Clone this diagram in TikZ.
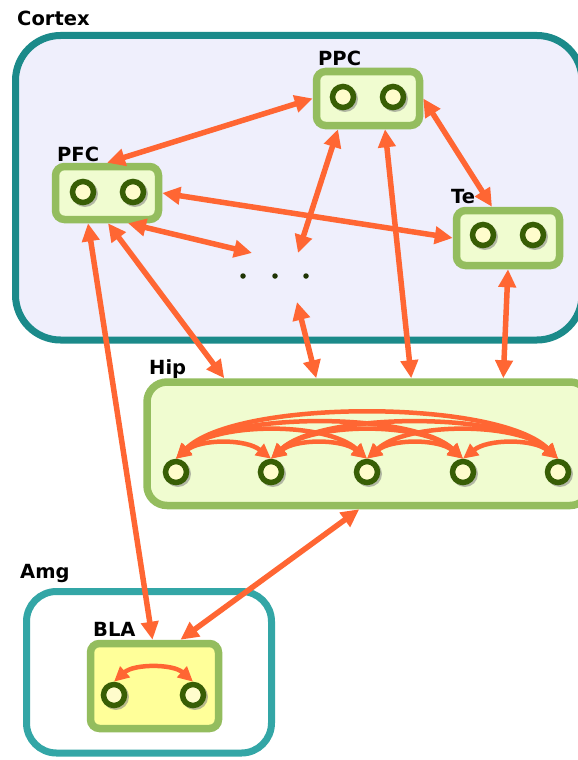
\documentclass[tikz,border=0pt]{standalone}
\usepackage{fontspec}
\setmainfont{DejaVu Sans}
\usetikzlibrary{arrows.meta,shadows}

\definecolor{tealdark}{HTML}{1B8A8A}
\definecolor{teallight}{HTML}{33A6A6}
\definecolor{cortexfill}{HTML}{EFEFFC}
\definecolor{boxline}{HTML}{94BD5E}
\definecolor{boxfill}{HTML}{F0FCD0}
\definecolor{blafill}{HTML}{FFFF99}
\definecolor{ringline}{HTML}{385E05}
\definecolor{ringfill}{HTML}{FFFCCC}
\definecolor{link}{HTML}{FF6633}

\begin{document}
\begin{tikzpicture}[x=1pt,y=-1pt,
  region/.style={draw, line width=7pt, rectangle, inner sep=0pt},
  area/.style={draw=boxline, fill=boxfill, line width=7.5pt, rectangle,
    rounded corners=9pt, inner sep=0pt},
  ring/.style={circle, draw=ringline, fill=ringfill, line width=5.5pt,
    minimum size=21pt, inner sep=0pt,
    drop shadow={shadow xshift=1.5pt, shadow yshift=-1.5pt, shadow scale=1.25,
      fill=black!50, opacity=0.55}},
  dotmark/.style={circle, fill=ringline!55!black, minimum size=5.5pt, inner sep=0pt},
  lbl/.style={anchor=base west, inner sep=0pt, font=\fontsize{19.5}{21}\selectfont\bfseries},
  link2/.style={{Triangle[length=18pt,width=17pt]}-{Triangle[length=18pt,width=17pt]},
    draw=link, line width=5.5pt},
  loop/.style={{Triangle[length=15pt,width=14pt]}-{Triangle[length=15pt,width=14pt]},
    draw=link, line width=4.5pt},
]
\useasboundingbox (0,0) rectangle (578,760);

% ---- regions ----
\node[region, draw=tealdark, fill=cortexfill, rounded corners=45pt,
  minimum width=566.5pt, minimum height=304.5pt] (cortex) at (298.75,187.75) {};
\node[region, draw=teallight, fill=white, rounded corners=30pt,
  minimum width=245pt, minimum height=161.5pt] (amg) at (149,672.25) {};
\node[area, rounded corners=20pt, minimum width=443pt, minimum height=123.5pt]
  (hip) at (368.5,443.75) {};

% ---- areas ----
\node[area, minimum width=103pt, minimum height=54pt] (ppc) at (368,98.5) {};
\node[area, minimum width=103pt, minimum height=53pt] (pfc) at (107,193) {};
\node[area, minimum width=103pt, minimum height=55pt] (te) at (508,238) {};
\node[area, fill=blafill, minimum width=128pt, minimum height=85pt] (bla) at (154.5,686) {};

% ---- labels ----
\node[lbl] (lcortex) at (17,26) {Cortex};
\node[lbl] (lppc) at (318,66) {PPC};
\node[lbl] (lpfc) at (57,161) {PFC};
\node[lbl] (lte) at (451,203) {Te};
\node[lbl] (lhip) at (149,374) {Hip};
\node[lbl] (lamg) at (20,578) {Amg};
\node[lbl] (lbla) at (93,636) {BLA};

% ---- units ----
\node[ring] (ppc1) at (343,97) {};
\node[ring] (ppc2) at (393,97) {};
\node[ring] (pfc1) at (83,192) {};
\node[ring] (pfc2) at (133,192) {};
\node[ring] (te1) at (483,235) {};
\node[ring] (te2) at (533,235) {};
\node[ring] (h1) at (176,472) {};
\node[ring] (h2) at (271,472) {};
\node[ring] (h3) at (367,472) {};
\node[ring] (h4) at (463,472) {};
\node[ring] (h5) at (558,472) {};
\node[ring] (b1) at (114,695) {};
\node[ring] (b2) at (193,695) {};

% ---- ellipsis between areas ----
\node[dotmark] (d1) at (243,276) {};
\node[dotmark] (d2) at (275,276) {};
\node[dotmark] (d3) at (306,276) {};
\coordinate (dotsA) at (252,253);
\coordinate (dotsB) at (298,253);
\coordinate (dotsC) at (297,302);

% ---- long-range links ----
\draw[link2] (pfc.north) -- (ppc.west);
\draw[link2] ([xshift=-30pt]ppc.south) -- (dotsB);
\draw[link2] ([xshift=17pt]ppc.south) -- ([xshift=268pt]hip.north west);
\draw[link2] (ppc.east) -- ([xshift=-16pt]te.north);
\draw[link2] (pfc.east) -- (te.west);
\draw[link2] ([xshift=21pt]pfc.south) -- (dotsA);
\draw[link2] ([xshift=1pt]pfc.south) -- ([xshift=81pt]hip.north west);
\draw[link2] ([xshift=-19pt]pfc.south) -- ([xshift=-2pt]bla.north);
\draw[link2] (dotsC) -- ([xshift=173pt]hip.north west);
\draw[link2] (te.south) -- ([xshift=360pt]hip.north west);
\draw[link2] ([xshift=216pt]hip.south west) -- ([xshift=26pt]bla.north);

% ---- links inside Hip ----
\draw[loop] (h1.north) .. controls +(60,-60) and +(-60,-60) .. (h5.north);
\draw[loop] (h1.north) .. controls +(50,-47) and +(-50,-47) .. (h4.north);
\draw[loop] (h2.north) .. controls +(50,-47) and +(-50,-47) .. (h5.north);
\draw[loop] (h1.north) .. controls +(40,-37) and +(-40,-37) .. (h3.north);
\draw[loop] (h2.north) .. controls +(40,-37) and +(-40,-37) .. (h4.north);
\draw[loop] (h3.north) .. controls +(40,-37) and +(-40,-37) .. (h5.north);
\draw[loop] (h1.north) .. controls +(25,-20) and +(-25,-20) .. (h2.north);
\draw[loop] (h2.north) .. controls +(25,-20) and +(-25,-20) .. (h3.north);
\draw[loop] (h3.north) .. controls +(25,-20) and +(-25,-20) .. (h4.north);
\draw[loop] (h4.north) .. controls +(25,-20) and +(-25,-20) .. (h5.north);

% ---- link inside BLA ----
\draw[loop] (b1.north) .. controls +(20,-18) and +(-20,-18) .. (b2.north);
\end{tikzpicture}
\end{document}
